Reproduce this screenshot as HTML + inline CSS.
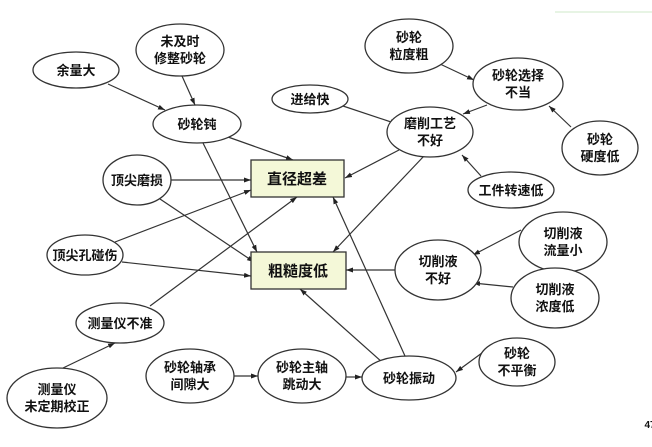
<!DOCTYPE html>
<html><head><meta charset="utf-8"><style>
html,body{margin:0;padding:0;background:#fff;}
svg{display:block;}
text{font-family:"Liberation Sans","Noto Sans CJK SC",sans-serif;font-size:13px;font-weight:bold;fill:#111;text-anchor:middle;}
</style></head><body>
<svg width="652" height="447" viewBox="0 0 652 447" xmlns="http://www.w3.org/2000/svg">
<defs><marker id="a" markerWidth="8" markerHeight="8" refX="7" refY="4" orient="auto" markerUnits="userSpaceOnUse"><path d="M0,1.5 L7,4 L0,6.5z" fill="#222"/></marker></defs>
<line x1="555" y1="12" x2="652" y2="12" stroke="#cfe8c8" stroke-width="1"/>
<g stroke="#333" stroke-width="1.2" marker-end="url(#a)" fill="none">
<line x1="108" y1="84" x2="165" y2="110"/>
<line x1="182" y1="76" x2="195" y2="105"/>
<line x1="228" y1="137" x2="293" y2="160"/>
<line x1="203" y1="143" x2="257" y2="252"/>
<line x1="171" y1="180" x2="251" y2="180"/>
<line x1="160" y1="199" x2="254" y2="262"/>
<line x1="115" y1="242" x2="251" y2="190"/>
<line x1="122" y1="262" x2="251" y2="276"/>
<line x1="150" y1="306" x2="297" y2="197"/>
<line x1="63" y1="368" x2="115" y2="343"/>
<line x1="340" y1="105" x2="397" y2="124"/>
<line x1="440" y1="64" x2="474" y2="80"/>
<line x1="487" y1="105" x2="463" y2="114"/>
<line x1="571" y1="127" x2="549" y2="106"/>
<line x1="481" y1="176" x2="462" y2="155"/>
<line x1="399" y1="150" x2="345" y2="178"/>
<line x1="424" y1="156" x2="333" y2="252"/>
<line x1="521" y1="230" x2="473" y2="255"/>
<line x1="513" y1="287" x2="473" y2="283"/>
<line x1="395" y1="270" x2="346" y2="270"/>
<line x1="405" y1="356" x2="333" y2="197"/>
<line x1="382" y1="362" x2="300" y2="289"/>
<line x1="234" y1="376" x2="258" y2="376"/>
<line x1="346" y1="377" x2="362" y2="377"/>
<line x1="486" y1="350" x2="456" y2="372"/>
</g>
<g fill="#fff" stroke="#333" stroke-width="1.3">
<ellipse cx="76" cy="70" rx="43" ry="18"/>
<ellipse cx="180" cy="50" rx="44" ry="26"/>
<ellipse cx="197" cy="124" rx="44" ry="19"/>
<ellipse cx="310" cy="99" rx="38" ry="14"/>
<ellipse cx="409" cy="46" rx="44" ry="27"/>
<ellipse cx="518" cy="84" rx="45" ry="26"/>
<ellipse cx="430" cy="132" rx="43" ry="25"/>
<ellipse cx="600" cy="148" rx="38" ry="27"/>
<ellipse cx="511" cy="190" rx="43" ry="18"/>
<ellipse cx="137" cy="180" rx="34" ry="25"/>
<ellipse cx="85" cy="255" rx="38" ry="20"/>
<ellipse cx="120" cy="323" rx="44" ry="20"/>
<ellipse cx="57" cy="398" rx="50" ry="30"/>
<ellipse cx="190" cy="376" rx="44" ry="27"/>
<ellipse cx="302" cy="376" rx="44" ry="27"/>
<ellipse cx="409" cy="378" rx="47" ry="22"/>
<ellipse cx="517" cy="362" rx="38" ry="24"/>
<ellipse cx="438" cy="270" rx="43" ry="30"/>
<ellipse cx="563" cy="242" rx="44" ry="30"/>
<ellipse cx="555" cy="298" rx="44" ry="30"/>
</g>
<rect x="251" y="160" width="93" height="37" fill="#f4f8d8" stroke="#333" stroke-width="1.3"/>
<rect x="251" y="252" width="95" height="37" fill="#f4f8d8" stroke="#333" stroke-width="1.3"/>
<text x="297" y="184" style="font-size:15px">直径超差</text>
<text x="298" y="276" style="font-size:15px">粗糙度低</text>
<text x="76" y="75">余量大</text>
<text x="180" y="46">未及时</text><text x="180" y="63">修整砂轮</text>
<text x="197" y="129">砂轮钝</text>
<text x="310" y="104">进给快</text>
<text x="409" y="42">砂轮</text><text x="409" y="59">粒度粗</text>
<text x="518" y="80">砂轮选择</text><text x="518" y="97">不当</text>
<text x="430" y="128">磨削工艺</text><text x="430" y="145">不好</text>
<text x="600" y="144">砂轮</text><text x="600" y="161">硬度低</text>
<text x="511" y="195">工件转速低</text>
<text x="137" y="185">顶尖磨损</text>
<text x="85" y="260">顶尖孔碰伤</text>
<text x="120" y="328">测量仪不准</text>
<text x="57" y="394">测量仪</text><text x="57" y="411">未定期校正</text>
<text x="190" y="372">砂轮轴承</text><text x="190" y="389">间隙大</text>
<text x="302" y="372">砂轮主轴</text><text x="302" y="389">跳动大</text>
<text x="409" y="383">砂轮振动</text>
<text x="517" y="358">砂轮</text><text x="517" y="375">不平衡</text>
<text x="438" y="266">切削液</text><text x="438" y="283">不好</text>
<text x="563" y="238">切削液</text><text x="563" y="255">流量小</text>
<text x="555" y="294">切削液</text><text x="555" y="311">浓度低</text>
<text x="650" y="428" style="font-size:10px">47</text>
</svg>
</body></html>
